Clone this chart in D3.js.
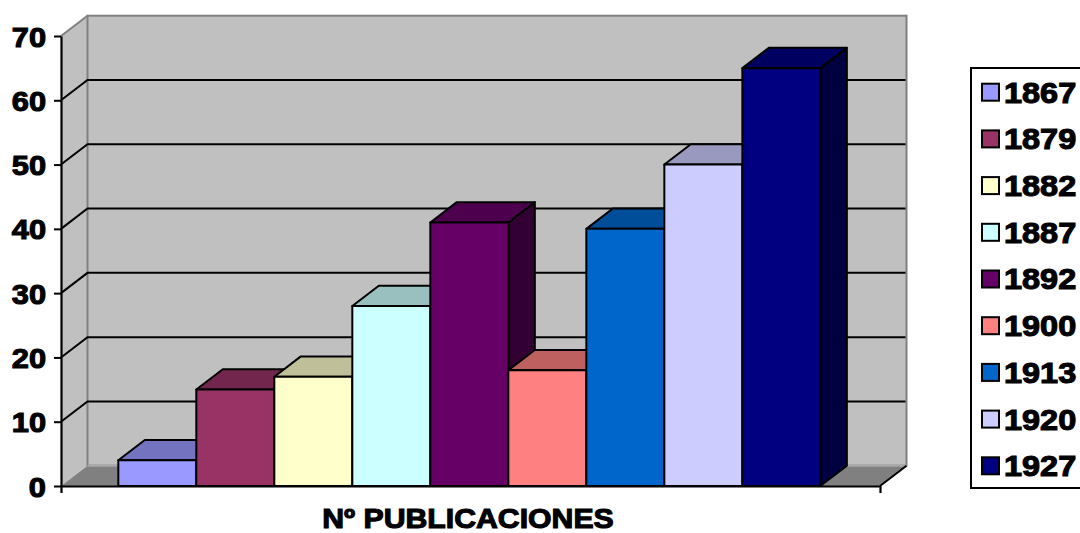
<!DOCTYPE html>
<html>
<head>
<meta charset="utf-8">
<script src="https://cdn.jsdelivr.net/npm/d3@7"></script>
<style>
  html, body { margin: 0; padding: 0; background: #ffffff; }
  svg { display: block; }
  text { font-family: "Liberation Sans", Arial, sans-serif; font-weight: bold; fill: #000; stroke: #000; stroke-width: 1.1px; }
</style>
</head>
<body>
<svg id="chart" width="1080" height="533"></svg>
<script>
// ---- data ----
const category = ["Nº PUBLICACIONES"];
const years = ["1867", "1879", "1882", "1887", "1892", "1900", "1913", "1920", "1927"];
const values = [4, 15, 17, 28, 41, 18, 40, 50, 65];
const frontColors = ["#9999FF", "#993366", "#FFFFCC", "#CCFFFF", "#660066", "#FF8080", "#0066CC", "#CCCCFF", "#000080"];
const yTicks = [0, 10, 20, 30, 40, 50, 60, 70];
const xTitle = "Nº PUBLICACIONES";

// ---- layout ----
const svg = d3.select("#chart");
const X0 = 61, X1 = 880, Y0 = 486, Y1 = 36;
const DX = 26.5, DY = -20.3;   // depth offset
const SX = 1.1;                // horizontal text stretch (axis)
const SXT = 1.08;              // title stretch
const SXL = 1.12;              // legend stretch

const y = d3.scaleLinear().domain([0, 70]).range([Y0, Y1]);
const xOuter = d3.scaleBand().domain(category).range([X0, X1])
  .paddingInner(0).paddingOuter(0.0833).align(0.49);
const xInner = d3.scaleBand().domain(years).range([0, xOuter.bandwidth()]).padding(0);
const color = d3.scaleOrdinal().domain(years).range(frontColors);

const shade = (c, k) => { const r = d3.rgb(c); return d3.rgb(r.r * k, r.g * k, r.b * k).formatHex(); };
const poly = pts => "M" + pts.map(p => p.join(",")).join("L") + "Z";

const gWalls = svg.append("g");
// left side wall
gWalls.append("path")
  .attr("d", poly([[X0, y(70)], [X0 + DX, y(70) + DY], [X0 + DX, y(0) + DY], [X0, y(0)]]))
  .attr("fill", "#c0c0c0");
// back wall
gWalls.append("rect")
  .attr("x", X0 + DX).attr("y", y(70) + DY)
  .attr("width", (X1 + DX) - (X0 + DX)).attr("height", y(0) - y(70))
  .attr("fill", "#c0c0c0").attr("stroke", "#808080").attr("stroke-width", 2);
// floor
gWalls.append("path")
  .attr("d", poly([[X0, y(0)], [X0 + DX, y(0) + DY], [X1 + DX, y(0) + DY], [X1, y(0)]]))
  .attr("fill", "#808080");
gWalls.append("line")
  .attr("x1", X0 + DX).attr("y1", y(0) + DY).attr("x2", X1 + DX).attr("y2", y(0) + DY)
  .attr("stroke", "#a8a8a8").attr("stroke-width", 2);
gWalls.append("line")
  .attr("x1", X1).attr("y1", y(0)).attr("x2", X1 + DX).attr("y2", y(0) + DY)
  .attr("stroke", "#000").attr("stroke-width", 2);
// left wall top edge (grey)
gWalls.append("line")
  .attr("x1", X0).attr("y1", y(70)).attr("x2", X0 + DX).attr("y2", y(70) + DY)
  .attr("stroke", "#808080").attr("stroke-width", 2);

// gridlines
const gridVals = yTicks.filter(v => v > 0 && v < 70);
const gGrid = svg.append("g").attr("stroke", "#000").attr("stroke-width", 2).attr("fill", "none");
gGrid.selectAll("path.grid").data(gridVals).join("path")
  .attr("class", "grid")
  .attr("d", v => `M${X0},${y(v)}L${X0 + DX},${y(v) + DY}L${X1 + DX - 1},${y(v) + DY}`);

// y axis
const yAxis = d3.axisLeft(y).tickValues(yTicks).tickSize(7).tickSizeOuter(0).tickPadding(0);
const gY = svg.append("g").attr("transform", `translate(${X0},0)`).call(yAxis);
gY.select(".domain").attr("stroke", "#000").attr("stroke-width", 2.2);
gY.selectAll(".tick line").attr("stroke", "#000").attr("stroke-width", 2);
gY.selectAll(".tick text")
  .attr("x", -15 / SX).attr("dy", "0.36em")
  .attr("transform", `scale(${SX},1)`)
  .style("font-size", "28px").style("font-family", "'Liberation Sans', Arial, sans-serif")
  .style("font-weight", "bold").attr("fill", "#000");

// x axis (front floor edge with end ticks)
const xAxis = d3.axisBottom(d3.scaleLinear().domain([0, 1]).range([X0, X1]))
  .tickValues([]).tickSizeOuter(7);
const gX = svg.append("g").attr("transform", `translate(0,${Y0})`).call(xAxis);
gX.select(".domain").attr("stroke", "#000").attr("stroke-width", 2.2);

// bars (left to right, painter's order)
const gBars = svg.append("g").attr("stroke", "#000").attr("stroke-width", 2).attr("stroke-linejoin", "round");
const barData = years.map((yr, i) => ({ year: yr, value: values[i] }));
const bar = gBars.selectAll("g.bar").data(barData).join("g").attr("class", "bar");
const bx0 = d => xOuter(category[0]) + xInner(d.year);
const bx1 = d => bx0(d) + xInner.bandwidth();
// side face
bar.append("path")
  .attr("d", d => poly([[bx1(d), y(d.value)], [bx1(d) + DX, y(d.value) + DY], [bx1(d) + DX, y(0) + DY], [bx1(d), y(0)]]))
  .attr("fill", d => shade(color(d.year), 0.5));
// top face
bar.append("path")
  .attr("d", d => poly([[bx0(d), y(d.value)], [bx0(d) + DX, y(d.value) + DY], [bx1(d) + DX, y(d.value) + DY], [bx1(d), y(d.value)]]))
  .attr("fill", d => shade(color(d.year), 0.75));
// front face
bar.append("rect")
  .attr("x", d => bx0(d)).attr("y", d => y(d.value))
  .attr("width", xInner.bandwidth()).attr("height", d => y(0) - y(d.value))
  .attr("fill", d => color(d.year));

// x title
svg.append("text")
  .attr("transform", `translate(468,528) scale(${SXT},1)`)
  .attr("text-anchor", "middle")
  .style("font-size", "28px")
  .text(xTitle);

// legend
const LX = 971, LY = 68, LH = 420, ROW0 = 92.2, ROWSTEP = 46.7;
const gLeg = svg.append("g");
gLeg.append("rect").attr("x", LX).attr("y", LY).attr("width", 200).attr("height", LH)
  .attr("fill", "#fff").attr("stroke", "#000").attr("stroke-width", 2);
const item = gLeg.selectAll("g.item").data(years).join("g").attr("class", "item")
  .attr("transform", (d, i) => `translate(0,${ROW0 + i * ROWSTEP})`);
item.append("rect").attr("x", 982).attr("y", -8.5).attr("width", 17).attr("height", 17)
  .attr("fill", d => color(d)).attr("stroke", "#000").attr("stroke-width", 2);
item.append("text")
  .attr("transform", `translate(1004,0) scale(${SXL},1)`)
  .attr("dy", "0.36em")
  .style("font-size", "29px")
  .text(d => d);
</script>
</body>
</html>
